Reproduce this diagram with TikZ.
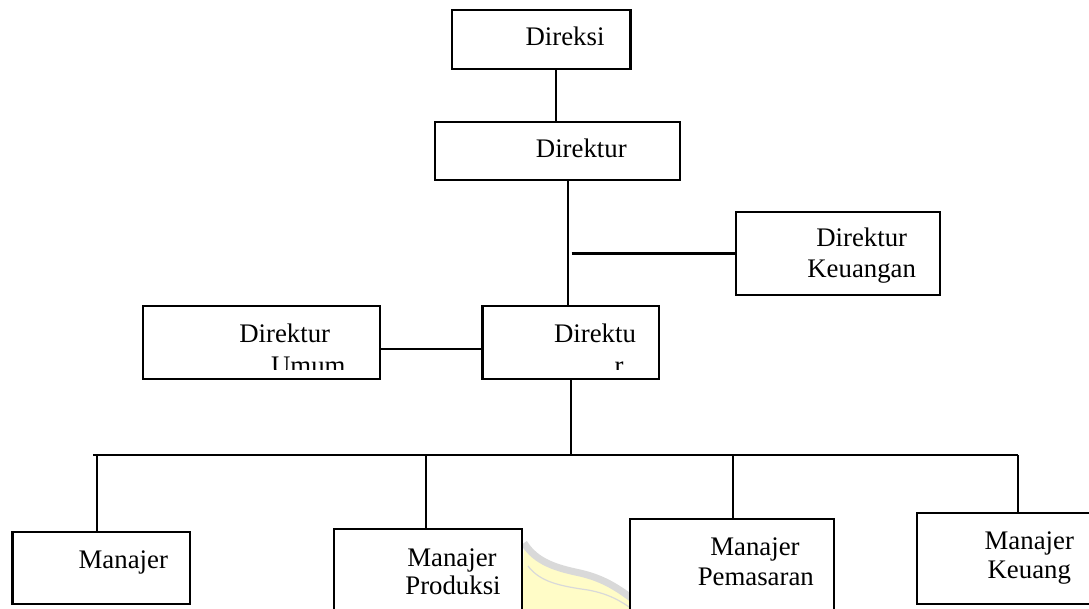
\documentclass[tikz,border=0pt]{standalone}
\usepackage{fontspec}
\setmainfont{Liberation Serif}
\begin{document}
\begin{tikzpicture}[x=1pt,y=-1pt,
  box/.style={draw, rectangle, line width=2.3pt, fill=white, inner sep=0pt},
  lbl/.style={anchor=base, inner sep=0pt, font=\fontsize{26.8}{32}\selectfont},
  wire/.style={line width=2.1pt}]
\clip (0,0) rectangle (1089,609);
\fill[white] (0,0) rectangle (1089,609);

% faint emblem behind the lower boxes
\fill[yellow!22] (524,543) .. controls (536,562) and (556,568) .. (580,573)
  .. controls (606,579) and (620,590) .. (634,600) -- (634,609) -- (522,609) -- cycle;
\draw[gray!30, line width=7pt] (524,543) .. controls (536,562) and (556,568) .. (580,573)
  .. controls (606,579) and (620,590) .. (634,600);
\draw[gray!30, line width=1.2pt] (528,566) .. controls (540,582) and (560,586) .. (588,590)
  .. controls (610,594) and (622,602) .. (632,609);

% boxes
\node[box, minimum width=178.3pt, minimum height=59.3pt] (direksi) at (541.2,39.7) {};
\node[box, minimum width=245.3pt, minimum height=57.7pt] (direktur) at (557.3,151.2) {};
\node[box, minimum width=204.3pt, minimum height=83.6pt] (dirkeu) at (837.8,253.5) {};
\node[box, minimum width=237.3pt, minimum height=72.7pt] (dirumum) at (261.3,342.3) {};
\node[box, minimum width=176.7pt, minimum height=72.7pt] (dirut) at (570.7,342.3) {};
\node[box, minimum width=177.7pt, minimum height=72pt] (man) at (101.2,568.3) {};
\node[box, minimum width=188pt, minimum height=96pt] (manprod) at (428.3,577) {};
\node[box, minimum width=204pt, minimum height=106pt] (manpem) at (732,572) {};
\node[box, minimum width=190pt, minimum height=91.3pt] (mankeu) at (1012.3,558.3) {};

% connector anchor points
\coordinate (c1) at (556,0);
\coordinate (spine) at (568.3,0);
\coordinate (keuin) at (571.5,0);
\coordinate (rowu) at (0,349.3);
\coordinate (busL) at (93.3,455);
\coordinate (busR) at (1018.3,455);
\coordinate (d1) at (97.3,455);
\coordinate (d2) at (426,455);
\coordinate (d3) at (733.3,455);
\coordinate (d4) at (1018.3,455);
\coordinate (dm) at (570.7,455);

% connectors
\draw[wire] (c1 |- direksi.south) -- (c1 |- direktur.north);
\draw[wire] (spine |- direktur.south) -- (spine |- dirut.north);
\draw[wire] (keuin |- dirkeu.west) -- (dirkeu.west);
\draw[wire] (dirumum.east |- rowu) -- (dirut.west |- rowu);
\draw[wire] (dirut.south) -- (dm);
\draw[wire] (busL) -- (busR);
\draw[wire] (d1) -- (d1 |- man.north);
\draw[wire] (d2) -- (d2 |- manprod.north);
\draw[wire] (d3) -- (d3 |- manpem.north);
\draw[wire] (d4) -- (d4 |- mankeu.north);

% labels
\node[lbl] (t1) at (565,46) {Direksi};
\node[lbl] (t2) at (581.3,157.7) {Direktur};
\node[lbl] (t3) at (861.7,246.7) {Direktur};
\node[lbl] (t4) at (861.7,277.3) {Keuangan};
\node[lbl] (t5) at (284.7,342.7) {Direktur};
\node[lbl] (t6) at (595,342.7) {Direktu};
\begin{scope}
  \clip (143,306) rectangle (660,369.5);
  \node[lbl] (t7) at (308.3,374.5) {Umum};
  \node[lbl] (t8) at (619,374.5) {r};
\end{scope}
\node[lbl] (t9) at (123.3,568.3) {Manajer};
\node[lbl] (t10) at (452,566) {Manajer};
\node[lbl] (t11) at (453,594) {Produksi};
\node[lbl] (t12) at (755,555.7) {Manajer};
\node[lbl] (t13) at (755.8,585) {Pemasaran};
\node[lbl] (t14) at (1029.3,549.3) {Manajer};
\node[lbl] (t15) at (1029.3,578.3) {Keuang};
\end{tikzpicture}
\end{document}
